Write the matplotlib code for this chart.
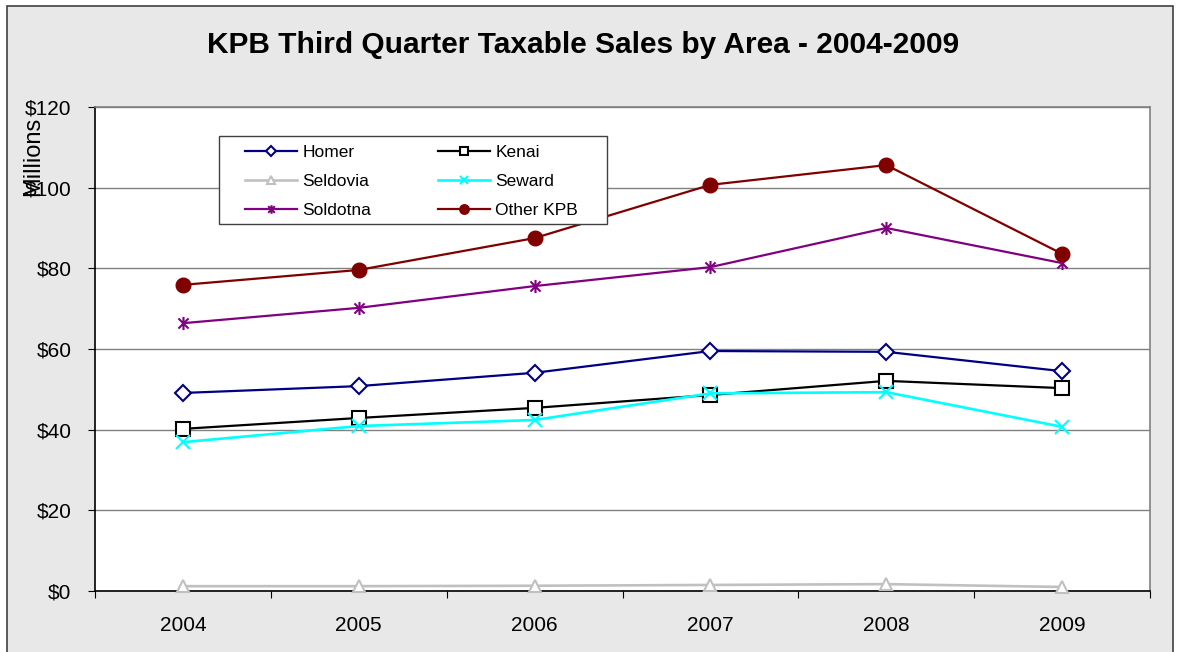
import matplotlib
matplotlib.use("Agg")
import matplotlib.pyplot as plt
from matplotlib.patches import Rectangle
from matplotlib.path import Path
import numpy as np

years = ["2004", "2005", "2006", "2007", "2008", "2009"]
homer = [49.1, 50.8, 54.1, 59.5, 59.3, 54.5]
kenai = [40.2, 42.9, 45.4, 48.6, 52.1, 50.3]
seldovia = [1.2, 1.2, 1.3, 1.5, 1.7, 1.0]
seward = [36.9, 40.9, 42.4, 49.0, 49.3, 40.7]
soldotna = [66.4, 70.2, 75.6, 80.3, 90.0, 81.3]
other_kpb = [75.9, 79.6, 87.5, 100.7, 105.6, 83.6]
yticks = [0, 20, 40, 60, 80, 100, 120]
ytick_labels = ["$0", "$20", "$40", "$60", "$80", "$100", "$120"]

plt.rcParams['font.family'] = ['Liberation Sans', 'DejaVu Sans']

W, H = 1180, 652
fig = plt.figure(figsize=(W / 100, H / 100), dpi=100)
fig.patch.set_facecolor('white')

# outer chart frame
fig.patches.append(Rectangle((7 / W, -0.05), (1173 - 7) / W, (H - 6) / H + 0.05,
                             transform=fig.transFigure, facecolor='#E8E8E8',
                             edgecolor='#404040', linewidth=1.2, zorder=-10))

ax = fig.add_axes([95 / W, (H - 591) / H, (1150 - 95) / W, (591 - 107) / H])
ax.set_facecolor('white')

x = np.arange(len(years)) + 0.5

# asterisk marker (x plus vertical bar)
star = Path([(-1, -1), (1, 1), (-1, 1), (1, -1), (0, -1.3), (0, 1.3)],
            [Path.MOVETO, Path.LINETO, Path.MOVETO, Path.LINETO, Path.MOVETO, Path.LINETO])

lw = 1.6
h_homer, = ax.plot(x, homer, color='#000080', lw=lw, marker='D', markersize=8.5,
                   markerfacecolor='white', markeredgecolor='#000080', markeredgewidth=1.5,
                   label='Homer', zorder=3)
h_kenai, = ax.plot(x, kenai, color='black', lw=lw, marker='s', markersize=9.5,
                   markerfacecolor='white', markeredgecolor='black', markeredgewidth=1.5,
                   label='Kenai', zorder=3)
h_seld, = ax.plot(x, seldovia, color='#C0C0C0', lw=lw + 0.3, marker='^', markersize=9,
                  markerfacecolor='white', markeredgecolor='#C0C0C0', markeredgewidth=1.5,
                  label='Seldovia', zorder=3, clip_on=False)
h_sew, = ax.plot(x, seward, color='#00FFFF', lw=lw + 0.3, marker='x', markersize=9.5,
                 markeredgecolor='#00FFFF', markeredgewidth=1.5,
                 label='Seward', zorder=3)
h_sold, = ax.plot(x, soldotna, color='#800080', lw=lw, marker=star, markersize=9.5,
                  markeredgecolor='#800080', markeredgewidth=1.5,
                  label='Soldotna', zorder=3)
h_other, = ax.plot(x, other_kpb, color='#800000', lw=lw, marker='o', markersize=10.5,
                   markerfacecolor='#800000', markeredgecolor='#800000',
                   label='Other KPB', zorder=3)

ax.set_xlim(0, len(years))
ax.set_ylim(0, 120)
ax.set_yticks(yticks)
ax.set_yticklabels(ytick_labels, fontsize=15)
ax.set_xticks(np.arange(len(years) + 1))
ax.set_xticklabels([])
ax.set_xticks(x, minor=True)
ax.set_xticklabels(years, minor=True, fontsize=15)
ax.tick_params(axis='x', which='major', length=5, direction='out', color='black')
ax.tick_params(axis='x', which='minor', length=0, pad=18)
ax.tick_params(axis='y', length=5, direction='out', pad=12, color='black')

ax.yaxis.grid(True, color='#808080', linewidth=1)
ax.set_axisbelow(True)
for s in ['top', 'right']:
    ax.spines[s].set_color('#808080')
    ax.spines[s].set_linewidth(1.2)
for s in ['left', 'bottom']:
    ax.spines[s].set_color('black')
    ax.spines[s].set_linewidth(1.2)

fig.text(33 / W, 1 - 156 / H, 'Millions', rotation=90, ha='center', va='center', fontsize=17)
fig.text(583 / W, 1 - 45 / H, 'KPB Third Quarter Taxable Sales by Area - 2004-2009',
         ha='center', va='center', fontsize=21.5, fontweight='bold')

# legend box drawn manually
fig.patches.append(Rectangle((219 / W, 1 - 224 / H), (607 - 219) / W, (224 - 136) / H,
                             transform=fig.transFigure, facecolor='white',
                             edgecolor='#404040', linewidth=1, zorder=4))
leg = fig.legend(handles=[h_homer, h_seld, h_sold, h_kenai, h_sew, h_other], ncol=2,
                 loc='upper left', bbox_to_anchor=(245 / W, 1 - 145 / H),
                 fontsize=12.5, frameon=False, borderpad=0, labelspacing=0.8,
                 handlelength=3.0, handletextpad=0.3, columnspacing=3.85, borderaxespad=0,
                 markerscale=0.65)
leg.set_zorder(5)

fig.savefig('out.png', dpi=100)
